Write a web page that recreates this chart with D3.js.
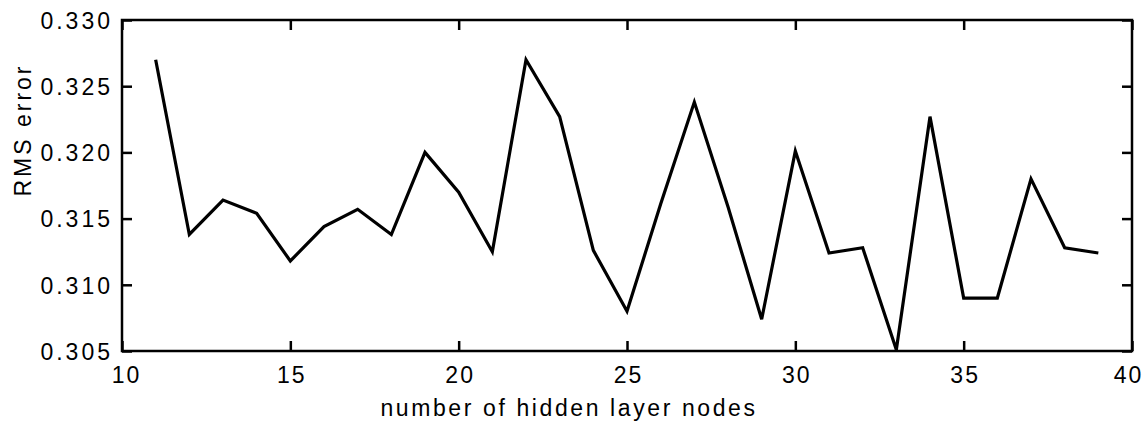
<!DOCTYPE html>
<html>
<head>
<meta charset="utf-8">
<script src="https://cdn.jsdelivr.net/npm/d3@7"></script>
<style>
  html, body { margin: 0; padding: 0; background: #fff; }
  svg text { font-family: "Liberation Sans", Arial, Helvetica, sans-serif; fill: #000; }
</style>
</head>
<body>
<svg id="chart" width="1146" height="430"></svg>
<script>
const nodes = [11,12,13,14,15,16,17,18,19,20,21,22,23,24,25,26,27,28,29,30,31,32,33,34,35,36,37,38,39];
const rmsError = [0.3270,0.3138,0.3164,0.3154,0.3118,0.3144,0.3157,0.3138,0.3200,0.3170,0.3125,
                  0.3270,0.3227,0.3126,0.3080,0.3161,0.3238,0.3159,0.3074,0.3201,0.3124,0.3128,
                  0.3051,0.3227,0.3090,0.3090,0.3180,0.3128,0.3124];
const xTicks = [10,15,20,25,30,35,40];
const yTicks = [0.305,0.310,0.315,0.320,0.325,0.330];
const xLabel = "number of hidden layer nodes";
const yLabel = "RMS error";

const L = 122, R = 1132, T = 20, B = 351;
const svg = d3.select("#chart");
const x = d3.scaleLinear().domain([10, 40]).range([L, R]);
const y = d3.scaleLinear().domain([0.305, 0.330]).range([B, T]);

const fmt = d3.format(".3f");
const tickLen = 10;

function styleAxis(g) {
  g.select(".domain").remove();
  g.selectAll(".tick line").attr("stroke", "#000").attr("stroke-width", 2.5);
}

// bottom axis
const gb = svg.append("g").attr("transform", `translate(0,${B})`)
  .call(d3.axisBottom(x).tickValues(xTicks).tickSizeInner(-tickLen).tickSizeOuter(0).tickPadding(0).tickFormat(d3.format("d")));
styleAxis(gb);
gb.selectAll(".tick text").attr("y", 32).attr("dy", null)
  .attr("font-size", 23).attr("letter-spacing", "2px")
  .attr("dx", (d, i) => i === 0 ? 4 : (i === xTicks.length - 1 ? -4 : 1));

// top axis (ticks only)
const gt = svg.append("g").attr("transform", `translate(0,${T})`)
  .call(d3.axisTop(x).tickValues(xTicks).tickSizeInner(-tickLen).tickSizeOuter(0).tickFormat(""));
styleAxis(gt);

// left axis
const gl = svg.append("g").attr("transform", `translate(${L},0)`)
  .call(d3.axisLeft(y).tickValues(yTicks).tickSizeInner(-tickLen).tickSizeOuter(0).tickPadding(0).tickFormat(fmt));
styleAxis(gl);
gl.selectAll(".tick text").attr("x", -9).attr("dy", "0.36em")
  .attr("font-size", 23).attr("letter-spacing", "3px");

// right axis (ticks only)
const gr = svg.append("g").attr("transform", `translate(${R},0)`)
  .call(d3.axisRight(y).tickValues(yTicks).tickSizeInner(-tickLen).tickSizeOuter(0).tickFormat(""));
styleAxis(gr);

// frame
svg.append("rect").attr("x", L).attr("y", T).attr("width", R - L).attr("height", B - T)
  .attr("fill", "none").attr("stroke", "#000").attr("stroke-width", 2.5);

// data line
const line = d3.line().x((d, i) => x(nodes[i])).y(d => y(d));
svg.append("path").datum(rmsError).attr("d", line)
  .attr("fill", "none").attr("stroke", "#000").attr("stroke-width", 3.2).attr("stroke-linejoin", "miter");

// axis labels
svg.append("text").attr("x", (L + R) / 2 - 58).attr("y", 416)
  .attr("text-anchor", "middle").attr("font-size", 23).attr("letter-spacing", "2.6px").text(xLabel);
svg.append("text").attr("transform", "translate(31,130) rotate(-90)")
  .attr("text-anchor", "middle").attr("font-size", 23).attr("letter-spacing", "3px").text(yLabel);
</script>
</body>
</html>
